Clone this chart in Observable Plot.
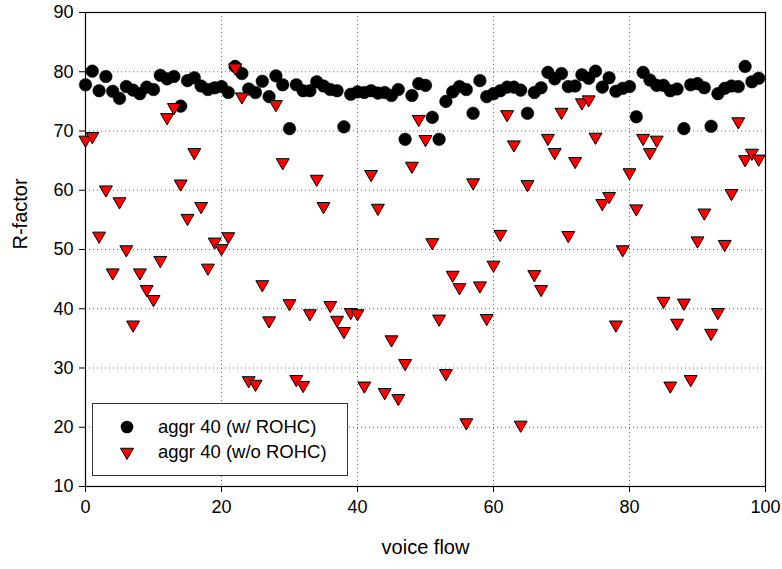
<!DOCTYPE html>
<html>
<head>
<meta charset="utf-8">
<script src="https://cdn.jsdelivr.net/npm/d3@7"></script>
<script src="https://cdn.jsdelivr.net/npm/@observablehq/plot@0.6"></script>
<style>
  html, body { margin: 0; padding: 0; background: #fff; }
  #wrap { position: relative; width: 782px; height: 569px; font-family: 'Liberation Sans', Arial, sans-serif; }
  #legend { position: absolute; left: 93px; top: 403px; }
</style>
</head>
<body>
<div id="wrap"></div>
<script>
// R-factor per voice flow, aggregation 40, with ROHC
const withROHC = [
  77.8,80.1,76.8,79.2,76.7,75.5,77.5,76.9,76.3,77.4,
  77.0,79.4,78.8,79.2,74.2,78.5,79.0,77.6,77.0,77.3,
  77.5,76.5,80.9,79.7,77.1,76.5,78.4,75.8,79.3,77.8,
  70.4,77.8,76.8,76.8,78.3,77.6,77.0,76.8,70.7,76.2,
  76.6,76.5,76.8,76.4,76.5,76.0,77.0,68.6,76.0,78.0,
  77.7,72.3,68.6,75.0,76.6,77.5,77.0,73.0,78.5,75.8,
  76.3,76.8,77.4,77.4,76.9,73.0,76.5,77.3,79.9,78.8,
  79.7,77.5,77.6,79.5,78.9,80.1,77.4,79.0,76.7,77.2,
  77.5,72.4,79.9,78.6,77.7,77.7,76.8,77.1,70.4,77.8,
  78.0,77.3,70.8,76.3,77.2,77.6,77.5,80.9,78.3,78.9
];
// without ROHC
const withoutROHC = [
  68.5,69.1,52.3,60.1,46.1,58.1,50.0,37.3,46.1,43.3,
  41.6,48.2,72.3,74.0,61.1,55.3,66.4,57.3,46.9,51.3,
  50.2,52.2,80.7,75.8,27.9,27.3,44.1,38.0,74.5,64.7,
  40.9,28.1,27.1,39.2,61.9,57.3,40.6,38.1,36.2,39.4,
  39.2,27.0,62.7,57.0,25.9,34.8,24.9,30.8,64.1,72.0,
  68.6,51.2,38.3,29.1,45.7,43.6,20.8,61.3,43.9,38.4,
  47.4,52.6,72.8,67.7,20.4,61.0,45.8,43.3,68.8,66.4,
  73.2,52.4,64.9,74.8,75.3,69.0,57.8,59.0,37.3,50.0,
  63.0,56.9,68.8,66.4,68.5,41.3,27.0,37.6,41.0,28.1,
  51.5,56.2,35.9,39.4,50.9,59.5,71.6,65.2,66.3,65.3
];
const seriesNames = ["aggr 40 (w/ ROHC)", "aggr 40 (w/o ROHC)"];
const xTicks = [0, 20, 40, 60, 80, 100];
const yTicks = [10, 20, 30, 40, 50, 60, 70, 80, 90];
const xGrid = [20, 40, 60, 80];
const yGrid = [20, 30, 40, 50, 60, 70, 80];
const xLabel = "voice flow";
const yLabel = "R-factor";

const tableWith = withROHC.map((v, i) => ({flow: i, r: v}));
const tableWithout = withoutROHC.map((v, i) => ({flow: i, r: v}));

const downTriangle = {
  draw(context, size) {
    const y = Math.sqrt(size / (3 * Math.sqrt(3)));
    const x = Math.sqrt(3) * y;
    context.moveTo(0, 2 * y);
    context.lineTo(x, -y);
    context.lineTo(-x, -y);
    context.closePath();
  }
};

const font = "'Liberation Sans', Arial, sans-serif";
const gridStyle = {stroke: "#666", strokeDasharray: "1,3", strokeWidth: 1};

const chart = Plot.plot({
  width: 782,
  height: 569,
  marginLeft: 85,
  marginRight: 17,
  marginTop: 12,
  marginBottom: 83,
  style: {fontFamily: font, fontSize: "18px", color: "black", background: "white", overflow: "visible"},
  x: {domain: [0, 100]},
  y: {domain: [10, 90]},
  marks: [
    Plot.ruleX(xGrid, gridStyle),
    Plot.ruleY(yGrid, gridStyle),
    Plot.axisX({ticks: xTicks, tickSize: 6, tickPadding: 8, label: null, tickFormat: d => String(d)}),
    Plot.axisY({ticks: yTicks, tickSize: 6, tickPadding: 6, label: null, tickFormat: d => String(d)}),
    Plot.frame({stroke: "black", strokeWidth: 1.2}),
    Plot.dot(tableWith, {x: "flow", y: "r", r: 6.3, fill: "black", stroke: "black", strokeWidth: 0.5}),
    Plot.dot(tableWithout, {x: "flow", y: "r", r: 4.8, symbol: downTriangle, fill: "#ff0000", stroke: "black", strokeWidth: 1}),
    Plot.text([xLabel], {text: d => d, frameAnchor: "bottom", dy: 67, fontSize: 20}),
    Plot.text([yLabel], {text: d => d, frameAnchor: "left", dx: -65, rotate: -90, fontSize: 20})
  ]
});

const wrap = document.getElementById("wrap");
wrap.appendChild(chart);

// Legend (HTML overlay with inline SVG)
const legend = d3.create("svg")
  .attr("id", "legend")
  .attr("width", 256)
  .attr("height", 73)
  .style("position", "absolute")
  .style("left", "92px")
  .style("top", "403px");
legend.append("rect")
  .attr("x", 0.5).attr("y", 0.5).attr("width", 255).attr("height", 72)
  .attr("fill", "white").attr("stroke", "#333").attr("stroke-width", 1);
const rowY = [24, 49];
legend.append("circle").attr("cx", 35).attr("cy", rowY[0]).attr("r", 6.3).attr("fill", "black");
const tri = d3.path();
downTriangle.draw(tri, Math.PI * 4.8 * 4.8);
legend.append("path").attr("d", tri.toString())
  .attr("transform", `translate(35,${rowY[1]})`)
  .attr("fill", "#ff0000").attr("stroke", "black").attr("stroke-width", 1);
seriesNames.forEach((name, i) => {
  legend.append("text")
    .attr("x", 66).attr("y", rowY[i])
    .attr("dy", "0.35em")
    .attr("font-family", font)
    .attr("font-size", 18.5)
    .attr("fill", "black")
    .text(name);
});
wrap.appendChild(legend.node());
</script>
</body>
</html>
